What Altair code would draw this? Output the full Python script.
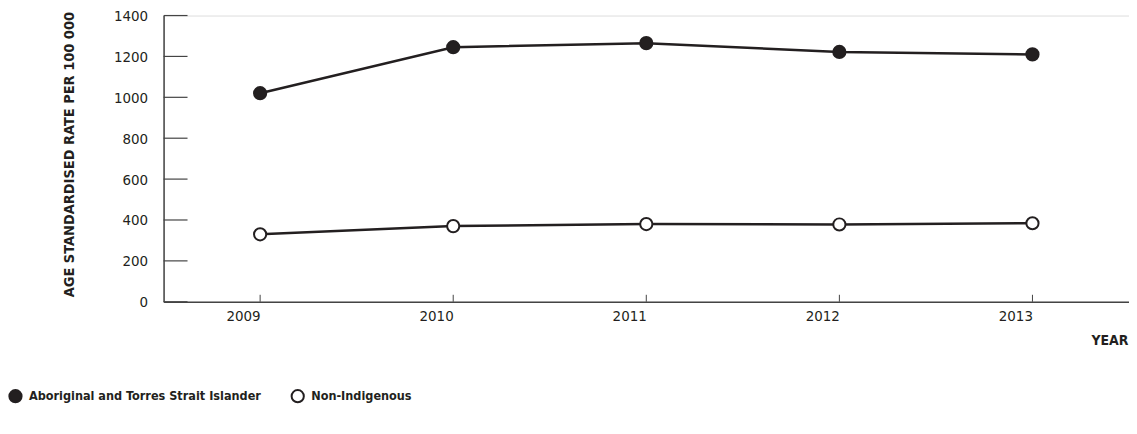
import altair as alt
import pandas as pd

years = ["2009", "2010", "2011", "2012", "2013"]
aboriginal = [1020, 1245, 1265, 1222, 1210]
non_indigenous = [330, 370, 380, 378, 384]
series_names = ["Aboriginal and Torres Strait Islander", "Non-Indigenous"]
y_ticks = [0, 200, 400, 600, 800, 1000, 1200, 1400]

FONT = "'DejaVu Sans Condensed', 'Liberation Sans Narrow', Roboto, sans-serif"
INK = "#231f20"
W, H = 968, 287

rows = []
for y, a, n in zip(years, aboriginal, non_indigenous):
    rows.append({"year": y, "rate": a, "series": series_names[0]})
    rows.append({"year": y, "rate": n, "series": series_names[1]})
df = pd.DataFrame(rows)

x_scale = alt.Scale(type="point", padding=0.5, domain=years)
y_scale = alt.Scale(domain=[0, 1400])

x_enc = alt.X("year:N", scale=x_scale,
              axis=alt.Axis(title="YEAR", labelAngle=0, ticks=False, labelPadding=14,
                            labelFontSize=15, labelFont=FONT, labelColor=INK,
                            domainColor="#444444", domainWidth=1.5,
                            titleFont=FONT, titleFontSize=14, titleFontWeight="bold",
                            titleColor=INK, titleAlign="right", titleAnchor="end",
                            titleX=W - 1, titleY=39, titleBaseline="middle"))
y_enc = alt.Y("rate:Q", scale=y_scale,
              axis=alt.Axis(title="AGE STANDARDISED RATE PER 100 000", values=y_ticks,
                            format="d",
                            ticks=False, grid=False, labelPadding=16, labelFontSize=15,
                            labelFont=FONT, labelColor=INK,
                            domainColor="#444444", domainWidth=1.5,
                            titleFont=FONT, titleFontSize=14.5, titleFontWeight="bold",
                            titleColor=INK, titleAngle=-90, titleX=-94, titleY=139,
                            titleAlign="center", titleBaseline="middle"))

base = alt.Chart(df)

lines = base.mark_line(color=INK, strokeWidth=2.5).encode(
    x=x_enc, y=y_enc, detail="series:N"
)

points = base.mark_point(filled=True, size=150, stroke=INK, strokeWidth=2, opacity=1).encode(
    x=alt.X("year:N", scale=x_scale),
    y=alt.Y("rate:Q", scale=y_scale),
    fill=alt.Fill("series:N",
                  scale=alt.Scale(domain=series_names, range=[INK, "white"]),
                  legend=alt.Legend(title=None, orient="none", direction="horizontal",
                                    legendX=-156, legendY=374, symbolType="circle",
                                    symbolSize=150, symbolStrokeColor=INK,
                                    symbolStrokeWidth=2, labelFont=FONT,
                                    labelFontSize=12.6, labelFontWeight="bold",
                                    labelColor=INK, columnPadding=26,
                                    labelOffset=6, labelLimit=400)),
)

ytick_df = pd.DataFrame({"v": y_ticks})
yticks = alt.Chart(ytick_df).mark_rule(color="#444444", strokeWidth=1.2).encode(
    y=alt.Y("v:Q", scale=y_scale),
    x=alt.value(0), x2=alt.value(24),
)

xtick_df = pd.DataFrame({"year": years})
xticks = alt.Chart(xtick_df).mark_rule(color="#444444", strokeWidth=1).encode(
    x=alt.X("year:N", scale=x_scale),
    y=alt.value(H - 7), y2=alt.value(H),
)

chart = alt.layer(yticks, xticks, lines, points).properties(
    width=W, height=H,
    autosize=alt.AutoSizeParams(type="none"),
    padding={"left": 156, "top": 7, "right": 0, "bottom": 120},
).configure_view(stroke=None).configure(background="white")

chart.save("out.html", embed_options={"renderer": "svg", "actions": False})
